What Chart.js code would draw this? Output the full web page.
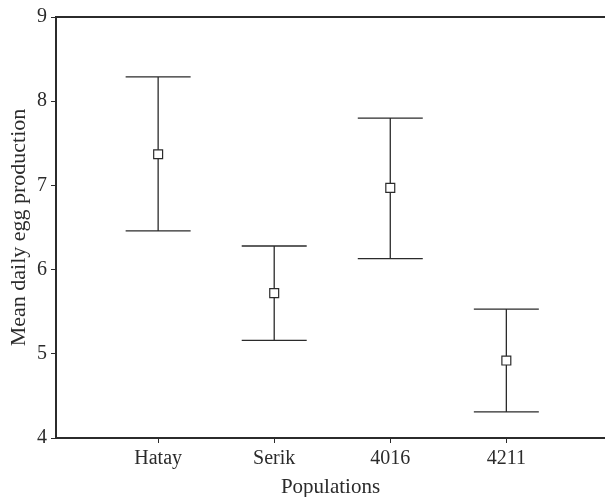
<!DOCTYPE html>
<html>
<head>
<meta charset="utf-8">
<script src="https://cdn.jsdelivr.net/npm/chart.js@4/dist/chart.umd.min.js"></script>
<style>
  html, body { margin: 0; padding: 0; background: #fff; }
  #wrap { width: 605px; height: 497px; }
</style>
</head>
<body>
<div id="wrap"><canvas id="chart" width="605" height="497"></canvas></div>
<script>
// data
const populations = ["Hatay", "Serik", "4016", "4211"];
const means = [7.37, 5.72, 6.97, 4.92];
const upper = [8.29, 6.28, 7.80, 5.53];
const lower = [6.46, 5.16, 6.13, 4.31];
const yTicks = [4, 5, 6, 7, 8, 9];

const ink = "#2b2b2b";
const font = "'Liberation Serif', 'Times New Roman', serif";

// draws the error bars and top frame line using the chart scales
const errorBars = {
  id: "errorBars",
  beforeDatasetsDraw(chart) {
    const { ctx, scales: { x, y }, chartArea } = chart;
    ctx.save();
    ctx.strokeStyle = ink;
    ctx.lineWidth = 1.3;
    const capHalf = 0.28;
    populations.forEach((p, i) => {
      const cx = x.getPixelForValue(i);
      const yt = y.getPixelForValue(upper[i]);
      const yb = y.getPixelForValue(lower[i]);
      const xl = x.getPixelForValue(i - capHalf);
      const xr = x.getPixelForValue(i + capHalf);
      ctx.beginPath();
      ctx.moveTo(cx, yt); ctx.lineTo(cx, yb);
      ctx.moveTo(xl, yt); ctx.lineTo(xr, yt);
      ctx.moveTo(xl, yb); ctx.lineTo(xr, yb);
      ctx.stroke();
    });
    // top frame line
    ctx.lineWidth = 2;
    ctx.beginPath();
    ctx.moveTo(chartArea.left, chartArea.top);
    ctx.lineTo(chartArea.right, chartArea.top);
    ctx.stroke();
    ctx.restore();
  }
};

new Chart(document.getElementById("chart"), {
  type: "scatter",
  data: {
    datasets: [{
      data: means.map((m, i) => ({ x: i, y: m })),
      pointStyle: "rect",
      pointRadius: 6.3,
      pointHoverRadius: 6.3,
      backgroundColor: "#fff",
      borderColor: ink,
      borderWidth: 1.2
    }]
  },
  options: {
    responsive: false,
    animation: false,
    layout: { autoPadding: false, padding: { top: 17, right: 0, bottom: 0, left: 0 } },
    plugins: { legend: { display: false }, tooltip: { enabled: false } },
    scales: {
      x: {
        type: "linear",
        min: -0.88,
        max: 3.85,
        afterBuildTicks: (scale) => { scale.ticks = populations.map((p, i) => ({ value: i })); },
        afterFit: (scale) => {
          scale.height = 59;
          scale.paddingLeft = 0;
          scale.paddingRight = 0;
        },
        ticks: {
          includeBounds: false,
          callback: (v) => populations[v],
          color: ink,
          padding: 4,
          font: { family: font, size: 20 }
        },
        grid: { drawOnChartArea: false, drawTicks: true, tickLength: 5, color: ink },
        border: { color: ink, width: 2 },
        title: {
          display: true,
          text: "Populations",
          color: ink,
          font: { family: font, size: 21 },
          padding: { top: 2, bottom: -3 }
        }
      },
      y: {
        min: 4,
        max: 9,
        afterBuildTicks: (scale) => { scale.ticks = yTicks.map(v => ({ value: v })); },
        afterFit: (scale) => { scale.width = 56; },
        ticks: {
          color: ink,
          padding: 4,
          font: { family: font, size: 20 }
        },
        grid: { drawOnChartArea: false, drawTicks: true, tickLength: 5, color: ink },
        border: { color: ink, width: 2 },
        title: {
          display: true,
          text: "Mean daily egg production",
          color: ink,
          font: { family: font, size: 22 },
          padding: { top: 6, bottom: 0 }
        }
      }
    }
  },
  plugins: [errorBars]
});
</script>
</body>
</html>
